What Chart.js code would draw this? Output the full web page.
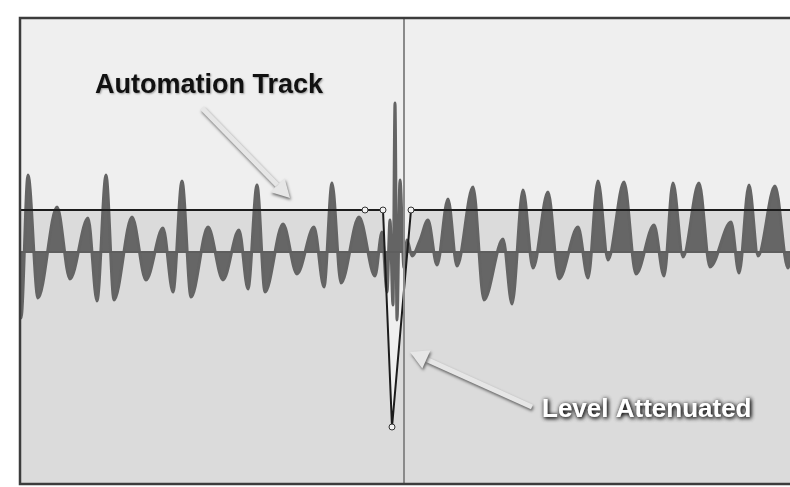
<!DOCTYPE html>
<html>
<head>
<meta charset="utf-8">
<script src="https://cdn.jsdelivr.net/npm/chart.js@4/dist/chart.umd.min.js"></script>
<style>
  html, body { margin: 0; padding: 0; background: #ffffff; }
  #wrap { position: relative; width: 790px; height: 487px; }
</style>
</head>
<body>
<div id="wrap"><canvas id="waveChart"></canvas></div>
<script>
// Waveform peaks/troughs (time ticks, level above centre)
const waveTime = [0, 2, 9, 19, 38, 51, 69, 78, 87, 95, 113, 127, 144, 154, 163, 172, 189, 204,
  220, 229, 238, 246, 264, 278, 295, 305, 313, 322, 340, 356, 363, 368, 371, 374, 376, 378,
  381, 385, 388, 393, 401, 409, 418, 429, 438, 454, 465, 484, 493, 504, 514, 529, 540, 559,
  569, 579, 589, 605, 617, 635, 645, 654, 664, 680, 691, 712, 720, 730, 739, 756, 769, 771];
const waveLevel = [-20, -66, 77, -46, 45, -27, 34, -49, 77, -48, 35, -28, 24, -40, 71, -45, 25, -28,
  22, -37, 67, -40, 28, -22, 25, -35, 69, -31, 35, -24, 20, -40, 32, -53, 149, -68,
  72, -16, 12, -4, 12, 32, -13, 53, -14, 65, -48, 13, -52, 62, -16, 60, -27, 25,
  -26, 71, -8, 70, -22, 27, -24, 69, -5, 69, -15, 30, -21, 67, -4, 66, -16, -10];

// Automation envelope: flat, dips down and comes back
const autoTime = [0, 346, 364, 373, 392, 771];
const autoLevel = [42, 42, 42, -175, 42, 42];
const autoHandles = [0, 3, 3, 3, 3, 0];

const baseTime = [0, 771];
const baseLevel = [0, 0];

const playheadTime = 385;

// Callouts: text anchor and arrow tail/tip, in the same time/level units
const callouts = [
  { text: "Automation Track", t: 76, l: 159, dark: true, width: 229,
    tail: [183, 144], tip: [271, 54] },
  { text: "Level Attenuated", t: 523, l: -165, dark: false, width: 215,
    tail: [513, -155], tip: [391, -100] }
];

const toPoints = (xs, ys) => xs.map((x, i) => ({ x: x, y: ys[i] }));

// Plot background, frame, playhead and callouts
const decorPlugin = {
  id: "decor",
  beforeDraw(chart) {
    const { ctx, chartArea: a } = chart;
    ctx.save();
    ctx.fillStyle = "#efefef";
    ctx.fillRect(a.left, a.top, a.right - a.left, a.bottom - a.top);
    ctx.restore();
  },
  afterDatasetsDraw(chart) {
    const { ctx, chartArea: a, scales } = chart;
    const px = (t) => scales.x.getPixelForValue(t);
    const py = (l) => scales.y.getPixelForValue(l);

    // playhead
    ctx.save();
    ctx.strokeStyle = "#8a8a8a";
    ctx.lineWidth = 2;
    ctx.beginPath();
    ctx.moveTo(px(playheadTime), a.top);
    ctx.lineTo(px(playheadTime), a.bottom);
    ctx.stroke();

    // frame
    ctx.strokeStyle = "#3c3c3c";
    ctx.lineWidth = 2.5;
    ctx.beginPath();
    ctx.moveTo(a.right, a.top + 1);
    ctx.lineTo(a.left + 1, a.top + 1);
    ctx.lineTo(a.left + 1, a.bottom - 1);
    ctx.lineTo(a.right, a.bottom - 1);
    ctx.stroke();
    ctx.restore();

    callouts.forEach((c) => {
      const x0 = px(c.tail[0]), y0 = py(c.tail[1]);
      const x1 = px(c.tip[0]), y1 = py(c.tip[1]);
      const ang = Math.atan2(y1 - y0, x1 - x0);
      const headLen = 18, headW = 10;
      const bx = x1 - headLen * Math.cos(ang), by = y1 - headLen * Math.sin(ang);

      ctx.save();
      ctx.shadowColor = "rgba(0,0,0,0.55)";
      ctx.shadowBlur = 3;
      ctx.shadowOffsetX = 1;
      ctx.shadowOffsetY = 2;
      ctx.strokeStyle = "#e6e6e6";
      ctx.lineWidth = 5;
      ctx.beginPath();
      ctx.moveTo(x0, y0);
      ctx.lineTo(bx, by);
      ctx.stroke();
      ctx.fillStyle = "#e6e6e6";
      ctx.beginPath();
      ctx.moveTo(x1, y1);
      ctx.lineTo(bx + headW * Math.sin(ang), by - headW * Math.cos(ang));
      ctx.lineTo(bx - headW * Math.sin(ang), by + headW * Math.cos(ang));
      ctx.closePath();
      ctx.fill();
      ctx.restore();

      ctx.save();
      ctx.font = "bold " + (c.dark ? 27 : 26) + "px 'Liberation Sans', Arial, sans-serif";
      ctx.textAlign = "left";
      ctx.textBaseline = "alphabetic";
      if (c.dark) {
        ctx.shadowColor = "rgba(0,0,0,0.35)";
        ctx.shadowBlur = 2;
        ctx.shadowOffsetX = 1;
        ctx.shadowOffsetY = 1;
        ctx.fillStyle = "#111111";
      } else {
        ctx.shadowColor = "rgba(0,0,0,0.85)";
        ctx.shadowBlur = 4;
        ctx.shadowOffsetX = 1;
        ctx.shadowOffsetY = 1;
        ctx.fillStyle = "#ffffff";
        ctx.fillText(c.text, px(c.t), py(c.l), c.width);
      }
      ctx.fillText(c.text, px(c.t), py(c.l), c.width);
      ctx.restore();
    });
  }
};

const ctx = document.getElementById("waveChart");
new Chart(ctx, {
  type: "line",
  data: {
    datasets: [
      {
        label: "Automation",
        data: toPoints(autoTime, autoLevel),
        borderColor: "#1c1c1c",
        borderWidth: 2,
        fill: false,
        tension: 0,
        pointRadius: autoHandles,
        pointBackgroundColor: "#f2f2f2",
        pointBorderColor: "#333333",
        pointBorderWidth: 1,
        order: 0,
      },
      {
        label: "Centre",
        data: toPoints(baseTime, baseLevel),
        borderColor: "#5e5e5e",
        borderWidth: 2,
        fill: false,
        pointRadius: 0,
        order: 1,
      },
      {
        label: "Waveform",
        data: toPoints(waveTime, waveLevel),
        borderColor: "#646464",
        backgroundColor: "#666666",
        borderWidth: 3,
        borderJoinStyle: "round",
        fill: { value: 0 },
        cubicInterpolationMode: "monotone",
        pointRadius: 0,
        order: 2,
      },
      {
        label: "Automation area",
        data: toPoints(autoTime, autoLevel),
        borderWidth: 0,
        borderColor: "rgba(0,0,0,0)",
        backgroundColor: "#dbdbdb",
        fill: "start",
        tension: 0,
        pointRadius: 0,
        order: 3,
      },
    ],
  },
  options: {
    responsive: true,
    maintainAspectRatio: false,
    animation: false,
    layout: {
      padding: { left: 19, top: 17, right: 0, bottom: 2 },
    },
    plugins: {
      legend: { display: false },
      tooltip: { enabled: false },
      title: { display: false },
    },
    scales: {
      x: { type: "linear", min: 0, max: 771, display: false },
      y: { min: -233, max: 235, display: false },
    },
  },
  plugins: [decorPlugin],
});
</script>
</body>
</html>
